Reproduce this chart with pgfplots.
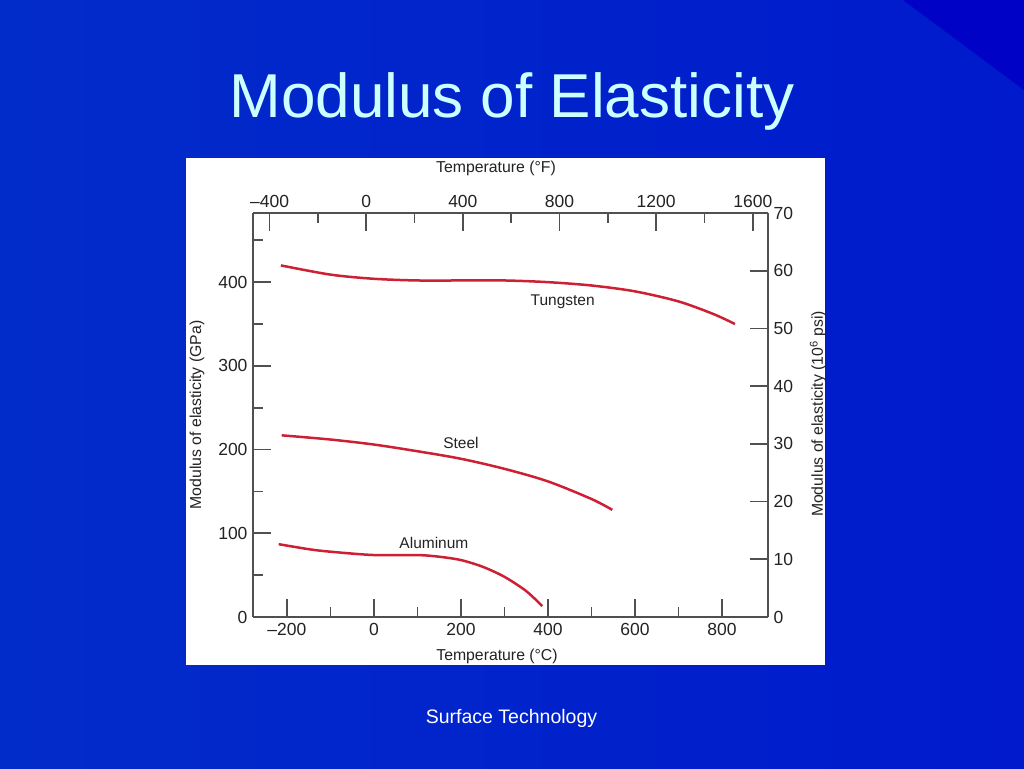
\documentclass[border=0pt]{standalone}
\usepackage{fontspec}
\setmainfont{Liberation Sans}
\usepackage{pgfplots}
\pgfplotsset{compat=1.18}
\definecolor{bgA}{RGB}{2,44,202}
\definecolor{bgB}{RGB}{0,26,204}
\definecolor{bgC}{RGB}{0,2,198}
\definecolor{titlec}{RGB}{204,255,255}
\definecolor{axgray}{RGB}{80,80,80}
\definecolor{curve}{RGB}{205,32,52}
\definecolor{lbl}{RGB}{35,35,35}
\begin{document}
\begin{tikzpicture}
% slide background
\shade[left color=bgA, right color=bgB] (0pt,0pt) rectangle (1024pt,768pt);
\fill[bgC] (903pt,768pt) -- (1024pt,768pt) -- (1024pt,678pt) -- cycle;
\node[anchor=base, text=titlec, font=\fontsize{62}{70}\selectfont] at (512pt,650pt) {Modulus of Elasticity};
\node[anchor=base, text=white, font=\fontsize{19.5}{22}\selectfont] at (511.5pt,45pt) {Surface Technology};
% white panel
\fill[white] (186pt,103pt) rectangle (825pt,610pt);

% main axis: degC / GPa
\begin{axis}[
  at={(253pt,151pt)}, anchor=south west,
  scale only axis, width=515pt, height=404pt,
  xmin=-278, xmax=906, ymin=0, ymax=482.6,
  axis x line*=bottom, axis y line*=left,
  axis line style={draw=axgray, line width=1.8pt, -},
  xtick={-200,0,200,400,600,800},
  xticklabels={–200,0,200,400,600,800},
  minor xtick={-100,100,300,500,700},
  ytick={0,100,200,300,400},
  yticklabels={0,100,200,300,400},
  minor ytick={50,150,250,350,450},
  tick align=inside,
  major tick length=18pt, minor tick length=10pt,
  every tick/.style={draw=axgray, line width=1.6pt},
  tick label style={font=\fontsize{17.5}{19}\selectfont, text=lbl},
  xticklabel style={yshift=-3pt},
  yticklabel style={xshift=-2pt},
  clip=false,
]
\addplot[curve, line width=2.5pt, smooth] coordinates {
 (-214,420) (-100,409) (0,404) (100,402) (200,402) (300,402) (400,400)
 (500,396) (600,389) (700,377) (780,362) (830,350)};
\addplot[curve, line width=2.5pt, smooth] coordinates {
 (-212,217) (-100,212) (0,206) (100,198) (200,189) (300,177) (400,162)
 (500,141) (548,128)};
\addplot[curve, line width=2.5pt, smooth] coordinates {
 (-219,87) (-150,81) (-100,78) (0,74) (100,74) (150,72) (200,68)
 (250,60) (300,48) (350,31) (387,13)};
\node[font=\fontsize{15.5}{17}\selectfont, text=lbl] at (axis cs:434,376) {Tungsten};
\node[font=\fontsize{15.5}{17}\selectfont, text=lbl] at (axis cs:200,208) {Steel};
\node[font=\fontsize{15.5}{17}\selectfont, text=lbl] at (axis cs:138,88) {Aluminum};
\end{axis}

% secondary axis: degF / 10^6 psi
\begin{axis}[
  at={(253pt,151pt)}, anchor=south west,
  scale only axis, width=515pt, height=404pt,
  xmin=-468.4, xmax=1662.8, ymin=0, ymax=70,
  axis x line*=top, axis y line*=right,
  axis line style={draw=axgray, line width=1.8pt, -},
  xtick={-400,0,400,800,1200,1600},
  xticklabels={–400,0,400,800,1200,1600},
  minor xtick={-200,200,600,1000,1400},
  ytick={0,10,20,30,40,50,60,70},
  yticklabels={0,10,20,30,40,50,60,70},
  tick align=inside,
  major tick length=18pt, minor tick length=10pt,
  every tick/.style={draw=axgray, line width=1.6pt},
  tick label style={font=\fontsize{17.5}{19}\selectfont, text=lbl},
  xticklabel style={yshift=2pt},
  yticklabel style={xshift=2pt},
]
\addplot[draw=none] coordinates {(0,0)};
\end{axis}

% axis titles
\node[font=\fontsize{15.8}{18}\selectfont, text=lbl] at (496pt,600pt) {Temperature (°F)};
\node[font=\fontsize{15.8}{18}\selectfont, text=lbl] at (497pt,112pt) {Temperature (°C)};
\node[rotate=90, font=\fontsize{15.8}{18}\selectfont, text=lbl] at (197pt,353pt) {Modulus of elasticity (GPa)};
\node[rotate=90, font=\fontsize{15.8}{18}\selectfont, text=lbl] at (818pt,354pt) {Modulus of elasticity (10\textsuperscript{6} psi)};
\end{tikzpicture}
\end{document}
